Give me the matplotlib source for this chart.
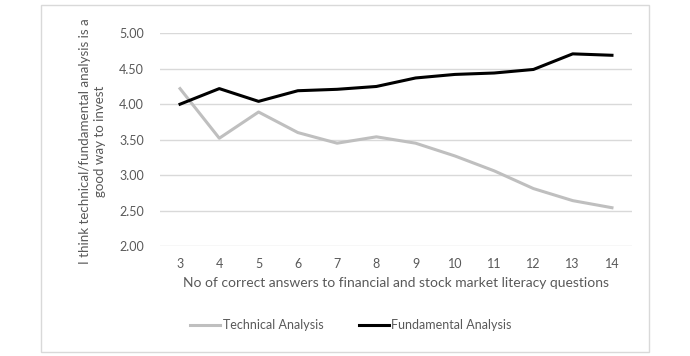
import numpy as np
import matplotlib
matplotlib.use('Agg')
import matplotlib.pyplot as plt
from matplotlib.patches import Rectangle

answers = [3, 4, 5, 6, 7, 8, 9, 10, 11, 12, 13, 14]
technical = [4.22, 3.52, 3.89, 3.60, 3.45, 3.54, 3.45, 3.27, 3.06, 2.81, 2.64, 2.54]
fundamental = [4.00, 4.22, 4.04, 4.19, 4.21, 4.25, 4.37, 4.42, 4.44, 4.49, 4.71, 4.69]
yticks = [2.0, 2.5, 3.0, 3.5, 4.0, 4.5, 5.0]
ylabel_lines = ['I think technical/fundamental analysis is a', 'good way to invest']

FN = ['Lato', 'DejaVu Sans']
TXT = '#595959'
plt.rc('font', family=FN)

fig = plt.figure(figsize=(6.9, 3.56), dpi=100)
# outer chart border
fig.patches.append(Rectangle((41/690, 1-352/356), 608/690, 347/356,
                             transform=fig.transFigure, fill=False,
                             ec='#d9d9d9', lw=1.0))

ax = fig.add_axes([160.4/690, 1-246/356, 471.2/690, 212.7/356])
ax.plot(answers, technical, color='#bfbfbf', lw=2.2, label='Technical Analysis',
        solid_joinstyle='round', zorder=3)
ax.plot(answers, fundamental, color='#000000', lw=2.2, label='Fundamental Analysis',
        solid_joinstyle='round', zorder=3)

ax.set_xlim(2.5, 14.5)
ax.set_ylim(2.0, 5.0)
ax.set_xticks(answers)
ax.set_yticks(yticks)
ax.set_yticklabels(['%.2f' % v for v in yticks])
ax.grid(axis='y', color='#d9d9d9', lw=1.0)
ax.set_axisbelow(True)
for s in ax.spines.values():
    s.set_visible(False)
ax.tick_params(length=0, labelsize=9, colors=TXT, pad=12)
ax.tick_params(axis='x', pad=9)

ax.set_xlabel('No of correct answers to financial and stock market literacy questions',
              fontsize=10, color=TXT, labelpad=5)
# y label: two centred lines
for xpx, line in zip([85, 100], ylabel_lines):
    fig.text(xpx/690, 1-141/356, line, rotation=90, ha='center', va='center',
             fontsize=9.6, color=TXT)

ax.legend(loc='upper left', bbox_to_anchor=(0.04, -0.29), ncol=2, frameon=False,
          fontsize=9, labelcolor=TXT, handlelength=2.4, handletextpad=0.2,
          columnspacing=2.8)

plt.savefig('out.png', dpi=100)
plt.close(fig)
